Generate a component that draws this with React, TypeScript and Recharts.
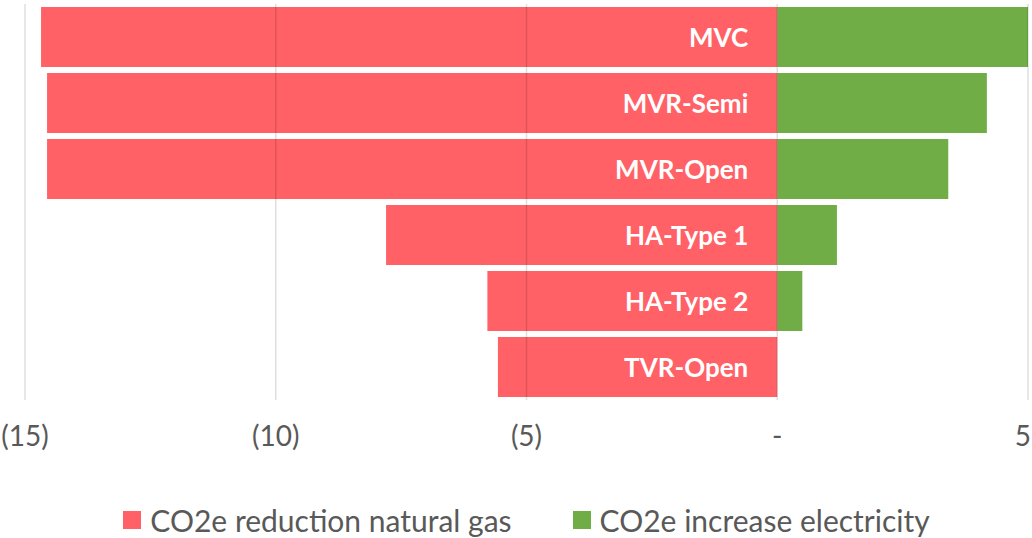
import { Bar, BarChart, CartesianGrid, LabelList, Legend, ReferenceLine, XAxis, YAxis } from "recharts";

const CATEGORIES = ["MVC", "MVR-Semi", "MVR-Open", "HA-Type 1", "HA-Type 2", "TVR-Open"];
const GAS_REDUCTION = [-14.68, -14.56, -14.56, -7.8, -5.78, -5.57];
const ELEC_INCREASE = [5.0, 4.18, 3.41, 1.19, 0.5, 0];
const X_TICKS = [-15, -10, -5, 0, 5];

const SERIES = [
    { key: "gas", name: "CO2e reduction natural gas", color: "#FF6166" },
    { key: "elec", name: "CO2e increase electricity", color: "#70AD47" },
];

const data = CATEGORIES.map((name, i) => ({
    name,
    gas: GAS_REDUCTION[i],
    elec: ELEC_INCREASE[i],
}));

const FONT = "Lato, 'Open Sans', sans-serif";
const TEXT_GREY = "#595959";

const fmtTick = (v: number) => (v === 0 ? "-" : v < 0 ? `(${Math.abs(v)})` : String(v));

// last tick sits on the right edge, so right-align it like the original
function XTick(props: any) {
    const { x, y, payload } = props;
    const last = payload.value === X_TICKS[X_TICKS.length - 1];
    return (
        <text
            x={last ? x + 3 : x}
            y={y}
            dy="0.71em"
            textAnchor={last ? "end" : "middle"}
            fill={TEXT_GREY}
            fontFamily={FONT}
            fontSize={28}
        >
            {fmtTick(payload.value)}
        </text>
    );
}

function BarLabel(props: any) {
    const { x, y, width, height, value } = props;
    const right = Math.max(x, x + width);
    return (
        <text
            x={right - 29}
            y={y + height / 2}
            textAnchor="end"
            dominantBaseline="central"
            fill="#fff"
            fontFamily={FONT}
            fontWeight={700}
            fontSize={26}
        >
            {value}
        </text>
    );
}

function LegendBox() {
    return (
        <div
            style={{
                display: "flex",
                justifyContent: "center",
                gap: 61,
                paddingTop: 32,
                fontFamily: FONT,
                fontSize: 30,
                lineHeight: "36px",
                color: TEXT_GREY,
            }}
        >
            {SERIES.map((s) => (
                <div key={s.key} style={{ display: "flex", alignItems: "center", gap: 9 }}>
                    <span style={{ width: 18, height: 18, background: s.color, display: "inline-block" }} />
                    <span>{s.name}</span>
                </div>
            ))}
        </div>
    );
}

export default function App() {
    return (
        <div style={{ position: "absolute", left: 0, top: 0, width: 1032, height: 538, background: "#fff" }}>
            <BarChart
                width={1032}
                height={538}
                data={data}
                layout="vertical"
                stackOffset="sign"
                barCategoryGap={3}
                margin={{ top: 4, right: 4, left: 25, bottom: 0 }}
            >
                <CartesianGrid horizontal={false} vertical={false} />
                <XAxis
                    type="number"
                    domain={[-15, 5]}
                    ticks={X_TICKS}
                    axisLine={false}
                    tickLine={false}
                    tickMargin={20}
                    height={70}
                    tick={<XTick />}
                    interval={0}
                />
                <YAxis type="category" dataKey="name" hide />
                <Legend verticalAlign="bottom" height={68} content={<LegendBox />} />
                <Bar dataKey="gas" name={SERIES[0].name} stackId="a" fill={SERIES[0].color} isAnimationActive={false}>
                    <LabelList dataKey="name" content={<BarLabel />} />
                </Bar>
                <Bar dataKey="elec" name={SERIES[1].name} stackId="a" fill={SERIES[1].color} isAnimationActive={false} />
                {X_TICKS.map((t) => (
                    <ReferenceLine key={t} x={t} stroke="#000" strokeOpacity={0.13} strokeWidth={1.5} />
                ))}
            </BarChart>
        </div>
    );
}
